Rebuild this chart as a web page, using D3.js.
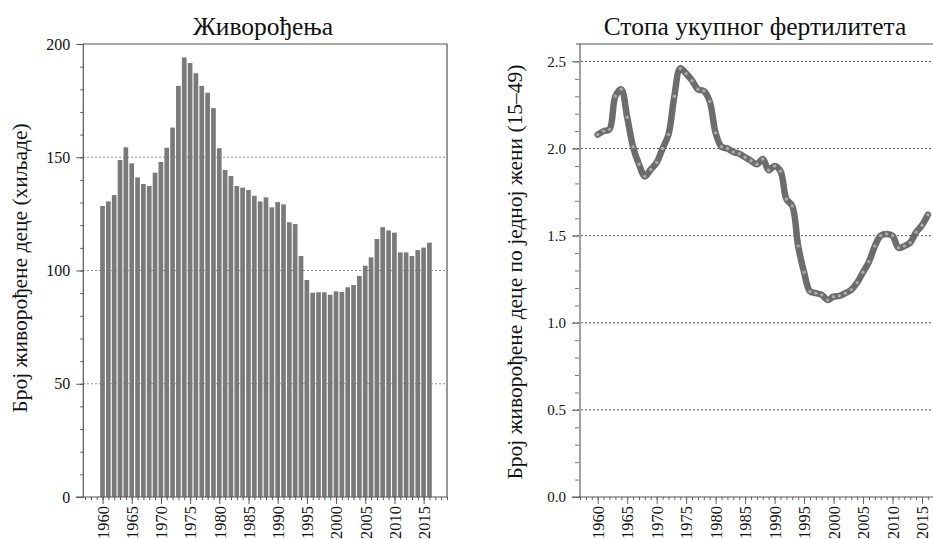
<!DOCTYPE html>
<html>
<head>
<meta charset="utf-8">
<script src="https://cdn.jsdelivr.net/npm/d3@7"></script>
<style>
  body { margin: 0; background: #fff; }
  svg { display: block; font-family: "Liberation Serif", "DejaVu Serif", serif; }
</style>
</head>
<body>
<div id="viz"></div>
<script>
(function() {
  var years, births, tfr, tickYears, birthTicks, tfrTicks, birthMinor, tfrMinor;
  var svg, xL, yL, xR, yR, line, gL, gR, drawXAxis;

  years = [1960, 1961, 1962, 1963, 1964, 1965, 1966, 1967, 1968, 1969,
           1970, 1971, 1972, 1973, 1974, 1975, 1976, 1977, 1978, 1979,
           1980, 1981, 1982, 1983, 1984, 1985, 1986, 1987, 1988, 1989,
           1990, 1991, 1992, 1993, 1994, 1995, 1996, 1997, 1998, 1999,
           2000, 2001, 2002, 2003, 2004, 2005, 2006, 2007, 2008, 2009,
           2010, 2011, 2012, 2013, 2014, 2015, 2016];

  // live births, thousands
  births = [128.5, 130.5, 133.3, 148.8, 154.4, 147.3, 141.1, 138.2, 137.3, 143.2,
            147.9, 154.2, 163.1, 181.5, 194.1, 191.6, 187.1, 181.5, 178.5, 171.7,
            154.0, 144.4, 141.7, 137.3, 136.6, 135.5, 133.0, 130.5, 132.3, 127.9,
            130.2, 129.2, 121.3, 120.5, 106.4, 95.8, 90.2, 90.4, 90.4, 89.3,
            90.8, 90.5, 92.6, 93.6, 97.6, 102.1, 105.8, 113.9, 119.1, 117.7,
            116.7, 108.0, 108.0, 106.4, 109.0, 110.1, 112.3];

  // total fertility rate
  tfr = [2.08, 2.10, 2.11, 2.30, 2.34, 2.18, 2.01, 1.91, 1.84, 1.88,
         1.92, 2.00, 2.08, 2.30, 2.46, 2.43, 2.39, 2.34, 2.33, 2.27,
         2.09, 2.01, 2.00, 1.98, 1.97, 1.95, 1.93, 1.91, 1.94, 1.875,
         1.90, 1.87, 1.71, 1.67, 1.44, 1.29, 1.18, 1.17, 1.16, 1.13,
         1.15, 1.155, 1.17, 1.19, 1.23, 1.29, 1.35, 1.44, 1.50, 1.51,
         1.50, 1.43, 1.44, 1.46, 1.52, 1.56, 1.62];

  tickYears = [1960, 1965, 1970, 1975, 1980, 1985, 1990, 1995, 2000, 2005, 2010, 2015];
  birthTicks = [0, 50, 100, 150, 200];
  tfrTicks = [0, 0.5, 1.0, 1.5, 2.0, 2.5];
  birthMinor = d3.range(0, 201, 10);
  tfrMinor = d3.range(0, 26).map(function(d) { return d / 10; });

  svg = d3.select("#viz").append("svg").attr("width", 933).attr("height", 539);

  xL = d3.scaleLinear().domain([1956.7, 2019]).range([83.3, 447]);
  yL = d3.scaleLinear().domain([0, 200]).range([497, 44]);
  xR = d3.scaleLinear().domain([1957, 2019]).range([580, 945.6]);
  yR = d3.scaleLinear().domain([0, 2.6]).range([497, 44]);

  drawXAxis = function(g, x, color) {
    var minor = d3.range(1957, 2020);
    g.append("g").attr("transform", "translate(0,497)")
      .call(d3.axisBottom(x).tickValues(minor).tickSize(3).tickFormat(""))
      .call(function(a) { a.select(".domain").remove(); a.selectAll("line").attr("stroke", color); });
    g.append("g").attr("transform", "translate(0,497)")
      .call(d3.axisBottom(x).tickValues(tickYears).tickSize(7).tickFormat(d3.format("d")))
      .call(function(a) {
        a.select(".domain").remove();
        a.selectAll("line").attr("stroke", color);
        a.selectAll("text")
          .attr("font-family", "Liberation Serif, serif")
          .attr("font-size", 16.5).attr("fill", "#111")
          .attr("transform", "rotate(-90)")
          .attr("text-anchor", "end")
          .attr("x", -9).attr("y", 0).attr("dy", "0.35em");
      });
  };

  // ---- left: births bar chart ----
  gL = svg.append("g");

  gL.selectAll("line.grid").data([50, 100, 150]).enter().append("line")
    .attr("class", "grid")
    .attr("x1", 83).attr("x2", 447)
    .attr("y1", function(d) { return yL(d); }).attr("y2", function(d) { return yL(d); })
    .attr("stroke", "#8a8a8a").attr("stroke-width", 1.2).attr("stroke-dasharray", "2,2");

  gL.selectAll("rect").data(years).enter().append("rect")
    .attr("x", function(d) { return xL(d) - 2.4; })
    .attr("width", 4.7)
    .attr("y", function(d, i) { return yL(births[i]); })
    .attr("height", function(d, i) { return yL(0) - yL(births[i]); })
    .attr("fill", "#7a7a7a");

  gL.append("g").attr("transform", "translate(83.3,0)")
    .call(d3.axisLeft(yL).tickValues(birthMinor).tickSize(3).tickFormat(""))
    .call(function(a) { a.select(".domain").remove(); a.selectAll("line").attr("stroke", "#555"); });
  gL.append("g").attr("transform", "translate(83.3,0)")
    .call(d3.axisLeft(yL).tickValues(birthTicks).tickSize(7).tickPadding(6))
    .call(function(a) {
      a.select(".domain").remove();
      a.selectAll("line").attr("stroke", "#555");
      a.selectAll("text").attr("font-family", "Liberation Serif, serif").attr("font-size", 16).attr("fill", "#111");
    });

  drawXAxis(gL, xL, "#555");

  gL.append("path")
    .attr("d", "M83.3,497V44H447V497")
    .attr("fill", "none").attr("stroke", "#555").attr("stroke-width", 1.2);
  gL.append("line").attr("x1", 76).attr("x2", 447).attr("y1", 497).attr("y2", 497)
    .attr("stroke", "#555").attr("stroke-width", 1.2);

  gL.append("text").attr("x", 263).attr("y", 35).attr("text-anchor", "middle")
    .attr("font-size", 25.5).attr("fill", "#111").text("Живорођења");
  gL.append("text").attr("transform", "translate(27,268) rotate(-90)").attr("text-anchor", "middle")
    .attr("font-size", 21.5).attr("fill", "#111").text("Број живорођене деце (хиљаде)");

  // ---- right: fertility rate line ----
  gR = svg.append("g");

  gR.selectAll("line.grid").data([0.5, 1.0, 1.5, 2.0, 2.5]).enter().append("line")
    .attr("class", "grid")
    .attr("x1", 573).attr("x2", 933)
    .attr("y1", function(d) { return yR(d); }).attr("y2", function(d) { return yR(d); })
    .attr("stroke", "#555").attr("stroke-width", 1).attr("stroke-dasharray", "2,2");

  gR.append("g").attr("transform", "translate(580,0)")
    .call(d3.axisLeft(yR).tickValues(tfrMinor).tickSize(5).tickFormat(""))
    .call(function(a) { a.select(".domain").remove(); a.selectAll("line").attr("stroke", "#777"); });
  gR.append("g").attr("transform", "translate(580,0)")
    .call(d3.axisLeft(yR).tickValues(tfrTicks).tickSize(8).tickPadding(6).tickFormat(d3.format(".1f")))
    .call(function(a) {
      a.select(".domain").remove();
      a.selectAll("line").attr("stroke", "#777");
      a.selectAll("text").attr("font-family", "Liberation Serif, serif").attr("font-size", 15).attr("fill", "#111");
    });

  drawXAxis(gR, xR, "#666");

  gR.append("line").attr("x1", 580).attr("x2", 580).attr("y1", 44).attr("y2", 497)
    .attr("stroke", "#a0a0a0").attr("stroke-width", 2);
  gR.append("line").attr("x1", 576).attr("x2", 933).attr("y1", 44).attr("y2", 44)
    .attr("stroke", "#555").attr("stroke-width", 1.2);
  gR.append("line").attr("x1", 572).attr("x2", 933).attr("y1", 497).attr("y2", 497)
    .attr("stroke", "#555").attr("stroke-width", 1.2);

  line = d3.line()
    .x(function(d) { return xR(d); })
    .y(function(d, i) { return yR(tfr[i]); })
    .curve(d3.curveCatmullRom.alpha(0.5));

  gR.append("path").datum(years).attr("d", line)
    .attr("fill", "none").attr("stroke", "#6c6c6c").attr("stroke-width", 6.5)
    .attr("stroke-linecap", "round").attr("stroke-linejoin", "round");

  gR.selectAll("circle").data(years).enter().append("circle")
    .attr("cx", function(d) { return xR(d); })
    .attr("cy", function(d, i) { return yR(tfr[i]); })
    .attr("r", 1.7).attr("fill", "#aaaaaa");

  gR.append("text").attr("x", 755).attr("y", 35).attr("text-anchor", "middle")
    .attr("font-size", 25.5).attr("fill", "#111").text("Стопа укупног фертилитета");
  gR.append("text").attr("transform", "translate(522,272) rotate(-90)").attr("text-anchor", "middle")
    .attr("font-size", 21.5).attr("fill", "#111").text("Број живорођене деце по једној жени (15–49)");

}).call(this);
</script>
</body>
</html>
